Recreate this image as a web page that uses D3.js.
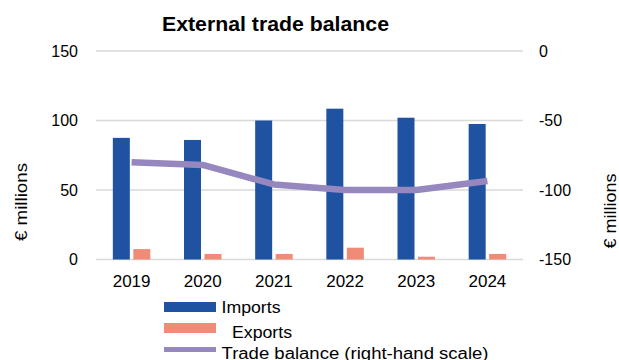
<!DOCTYPE html>
<html>
<head>
<meta charset="utf-8">
<script src="https://cdn.jsdelivr.net/npm/d3@7"></script>
<style>
  html, body { margin: 0; padding: 0; background: #fff; }
  svg { display: block; font-family: "Liberation Sans", Arial, sans-serif; }
</style>
</head>
<body>
<svg id="chart" width="619" height="360"></svg>
<script>
// External trade balance, € millions
const years = ["2019", "2020", "2021", "2022", "2023", "2024"];
const imports = [87.5, 86, 100, 108.5, 102, 97.5];
const exports = [7.5, 4, 4, 8.5, 2, 4];
const balance = [-80, -82, -96, -100, -100, -93.5];
const leftTicks = [0, 50, 100, 150];
const rightTicks = [0, -50, -100, -150];

const colors = { imports: "#1F52A0", exports: "#F08B78", balance: "#9787BF" };

const svg = d3.select("#chart");
const plot = { left: 96, right: 523, top: 51, bottom: 259.5 };

const x = d3.scaleBand().domain(years).range([plot.left, plot.right]).padding(0);
const yL = d3.scaleLinear().domain([0, 150]).range([plot.bottom, plot.top]);
const yR = d3.scaleLinear().domain([-150, 0]).range([plot.bottom, plot.top]);

const barW = 17, gap = 3.5;

// gridlines
svg.append("g").selectAll("line").data(leftTicks).join("line")
  .attr("x1", plot.left).attr("x2", plot.right)
  .attr("y1", d => yL(d)).attr("y2", d => yL(d))
  .attr("stroke", "#D9D9D9").attr("stroke-width", 1.5);

// left axis labels
const leftAxis = d3.axisLeft(yL).tickValues(leftTicks).tickSize(0).tickPadding(0);
const gl = svg.append("g").attr("transform", "translate(78,0)").call(leftAxis);
gl.select(".domain").remove();
gl.selectAll("text").attr("font-size", 16).attr("fill", "#000")
  .attr("font-family", "Liberation Sans, Arial, sans-serif");

// right axis labels
const rightAxis = d3.axisRight(yR).tickValues(rightTicks).tickSize(0).tickPadding(0)
  .tickFormat(d => d3.format("d")(d).replace("−", "-"));
const gr = svg.append("g").attr("transform", "translate(539,0)").call(rightAxis);
gr.select(".domain").remove();
gr.selectAll("text").attr("font-size", 16).attr("fill", "#000")
  .attr("font-family", "Liberation Sans, Arial, sans-serif");

// x axis labels
const xAxis = d3.axisBottom(x).tickSize(0).tickPadding(0);
const gx = svg.append("g").attr("transform", "translate(0,275)").call(xAxis);
gx.select(".domain").remove();
gx.selectAll("text").attr("font-size", 17).attr("fill", "#000")
  .attr("font-family", "Liberation Sans, Arial, sans-serif");

// bars
const cx = d => x(d) + x.bandwidth() / 2;
svg.append("g").selectAll("rect").data(years).join("rect")
  .attr("x", (d) => cx(d) - gap / 2 - barW)
  .attr("width", barW)
  .attr("y", (d, i) => yL(imports[i]))
  .attr("height", (d, i) => yL(0) - yL(imports[i]))
  .attr("fill", colors.imports);
svg.append("g").selectAll("rect").data(years).join("rect")
  .attr("x", (d) => cx(d) + gap / 2)
  .attr("width", barW)
  .attr("y", (d, i) => yL(exports[i]))
  .attr("height", (d, i) => yL(0) - yL(exports[i]))
  .attr("fill", colors.exports);

// balance line (right-hand scale)
const line = d3.line().x(d => cx(d[0])).y(d => yR(d[1]));
svg.append("path")
  .datum(years.map((y, i) => [y, balance[i]]))
  .attr("d", line)
  .attr("fill", "none")
  .attr("stroke", colors.balance)
  .attr("stroke-width", 6.5)
  .attr("stroke-linejoin", "round");

// title
svg.append("text").attr("x", 275.5).attr("y", 31).attr("text-anchor", "middle")
  .attr("font-size", 21).attr("font-weight", "bold").attr("fill", "#000")
  .attr("textLength", 227).attr("lengthAdjust", "spacingAndGlyphs")
  .text("External trade balance");

// axis titles
svg.append("text").attr("transform", "translate(27,202) rotate(-90)")
  .attr("text-anchor", "middle").attr("font-size", 16.5).attr("fill", "#000")
  .attr("textLength", 78).attr("lengthAdjust", "spacingAndGlyphs")
  .text("€ millions");
svg.append("text").attr("transform", "translate(616,211) rotate(-90)")
  .attr("text-anchor", "middle").attr("font-size", 16.5).attr("fill", "#000")
  .attr("textLength", 75).attr("lengthAdjust", "spacingAndGlyphs")
  .text("€ millions");

// legend
const lg = svg.append("g");
lg.append("rect").attr("x", 164).attr("y", 302).attr("width", 52).attr("height", 10).attr("fill", colors.imports);
lg.append("text").attr("x", 221.5).attr("y", 313).attr("font-size", 16).attr("fill", "#000")
  .attr("textLength", 59).attr("lengthAdjust", "spacingAndGlyphs").text("Imports");
lg.append("rect").attr("x", 164).attr("y", 323).attr("width", 52).attr("height", 10).attr("fill", colors.exports);
lg.append("text").attr("x", 232).attr("y", 338).attr("font-size", 16).attr("fill", "#000")
  .attr("textLength", 60).attr("lengthAdjust", "spacingAndGlyphs").text("Exports");
lg.append("line").attr("x1", 164).attr("x2", 216).attr("y1", 349.5).attr("y2", 349.5)
  .attr("stroke", colors.balance).attr("stroke-width", 5);
lg.append("text").attr("x", 221.5).attr("y", 359).attr("font-size", 16).attr("fill", "#000")
  .attr("textLength", 267).attr("lengthAdjust", "spacingAndGlyphs")
  .text("Trade balance (right-hand scale)");
</script>
</body>
</html>
